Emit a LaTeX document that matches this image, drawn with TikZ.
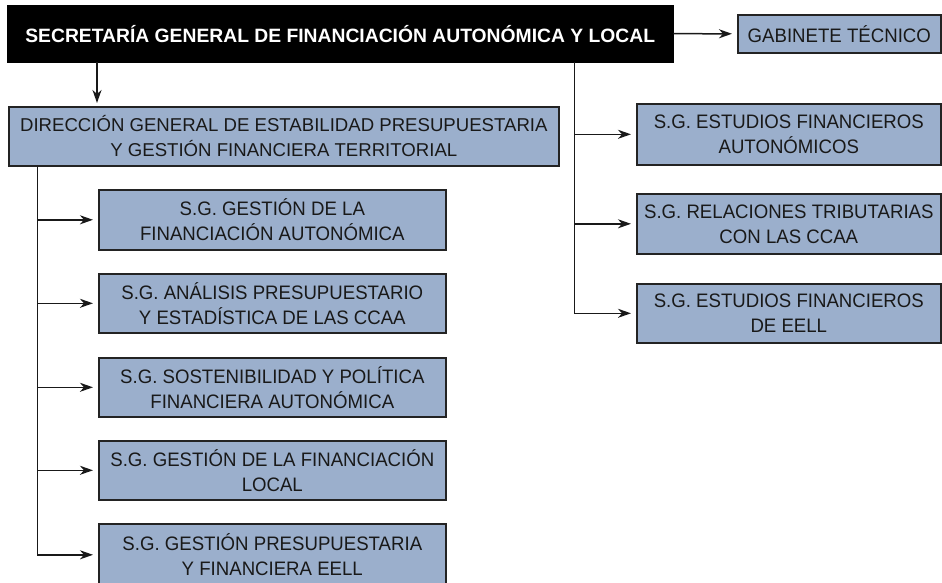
\documentclass[tikz,border=0pt]{standalone}
\usepackage{fontspec}
\setmainfont{Liberation Sans}
\newfontfamily\condfont[FakeStretch=0.955]{Liberation Sans}
\usetikzlibrary{arrows.meta}
\definecolor{boxblue}{RGB}{155,175,204}
\definecolor{edge}{RGB}{35,35,35}
\begin{document}
\begin{tikzpicture}[x=1pt,y=-1pt,
  unit/.style={draw=edge, line width=1.6pt, fill=boxblue, text=black!90,
    font=\condfont\fontsize{19.5}{25}\selectfont, align=center, inner sep=0pt,
    anchor=north west},
  head/.style={fill=black, draw=black, text=white,
    font=\fontsize{19.3}{24}\selectfont\bfseries, inner sep=0pt, anchor=north west},
  arr/.style={line width=1.5pt, draw=black!90, -{Stealth[length=13pt,width=9pt,inset=4pt]}, shorten >=5pt}]
\useasboundingbox (0,0) rectangle (942,582);
\clip (0,0) rectangle (942,582);
\node[head, minimum width=666pt, minimum height=57pt] (sec) at (7,5)
  {SECRETARÍA GENERAL DE FINANCIACIÓN AUTONÓMICA Y LOCAL};
\node[unit, minimum width=203pt, minimum height=38pt] (gab) at (737,14) {GABINETE TÉCNICO};
\node[unit, minimum width=550pt, minimum height=59pt,
  font=\fontsize{18.6}{25}\selectfont] (dg) at (8,106)
  {DIRECCIÓN GENERAL DE ESTABILIDAD PRESUPUESTARIA\\Y GESTIÓN FINANCIERA TERRITORIAL};
\node[unit, minimum width=304pt, minimum height=61pt] (ea) at (636,103)
  {S.G. ESTUDIOS FINANCIEROS\\AUTONÓMICOS};
\node[unit, minimum width=304pt, minimum height=60pt] (rt) at (636,193)
  {S.G. RELACIONES TRIBUTARIAS\\CON LAS CCAA};
\node[unit, minimum width=304pt, minimum height=59pt] (ee) at (636,283)
  {S.G. ESTUDIOS FINANCIEROS\\DE EELL};
\node[unit, minimum width=347pt, minimum height=60pt] (l1) at (98,189)
  {S.G. GESTIÓN DE LA\\FINANCIACIÓN AUTONÓMICA};
\node[unit, minimum width=347pt, minimum height=59pt] (l2) at (98,273)
  {S.G. ANÁLISIS PRESUPUESTARIO\\Y ESTADÍSTICA DE LAS CCAA};
\node[unit, minimum width=347pt, minimum height=59pt] (l3) at (98,357)
  {S.G. SOSTENIBILIDAD Y POLÍTICA\\FINANCIERA AUTONÓMICA};
\node[unit, minimum width=347pt, minimum height=59pt] (l4) at (98,440)
  {S.G. GESTIÓN DE LA FINANCIACIÓN\\LOCAL};
\node[unit, minimum width=347pt, minimum height=62pt] (l5) at (98,523)
  {S.G. GESTIÓN PRESUPUESTARIA\\Y FINANCIERA EELL};
% connectors
\draw[arr] (sec.east) -- (gab.west);
\draw[arr, shorten >=3pt] ([xshift=90pt]sec.south west) -- ([xshift=89pt]dg.north west);
\coordinate (rtrunk) at ([xshift=567.5pt]sec.south west);
\draw[arr] (rtrunk) |- (ea.west);
\draw[arr] (rtrunk) |- (rt.west);
\draw[arr] (rtrunk) |- (ee.west);
\coordinate (ltrunk) at ([xshift=29.5pt]dg.south west);
\draw[arr] (ltrunk) |- (l1.west);
\draw[arr] (ltrunk) |- (l2.west);
\draw[arr] (ltrunk) |- (l3.west);
\draw[arr] (ltrunk) |- (l4.west);
\draw[arr] (ltrunk) |- (l5.west);
\end{tikzpicture}
\end{document}
